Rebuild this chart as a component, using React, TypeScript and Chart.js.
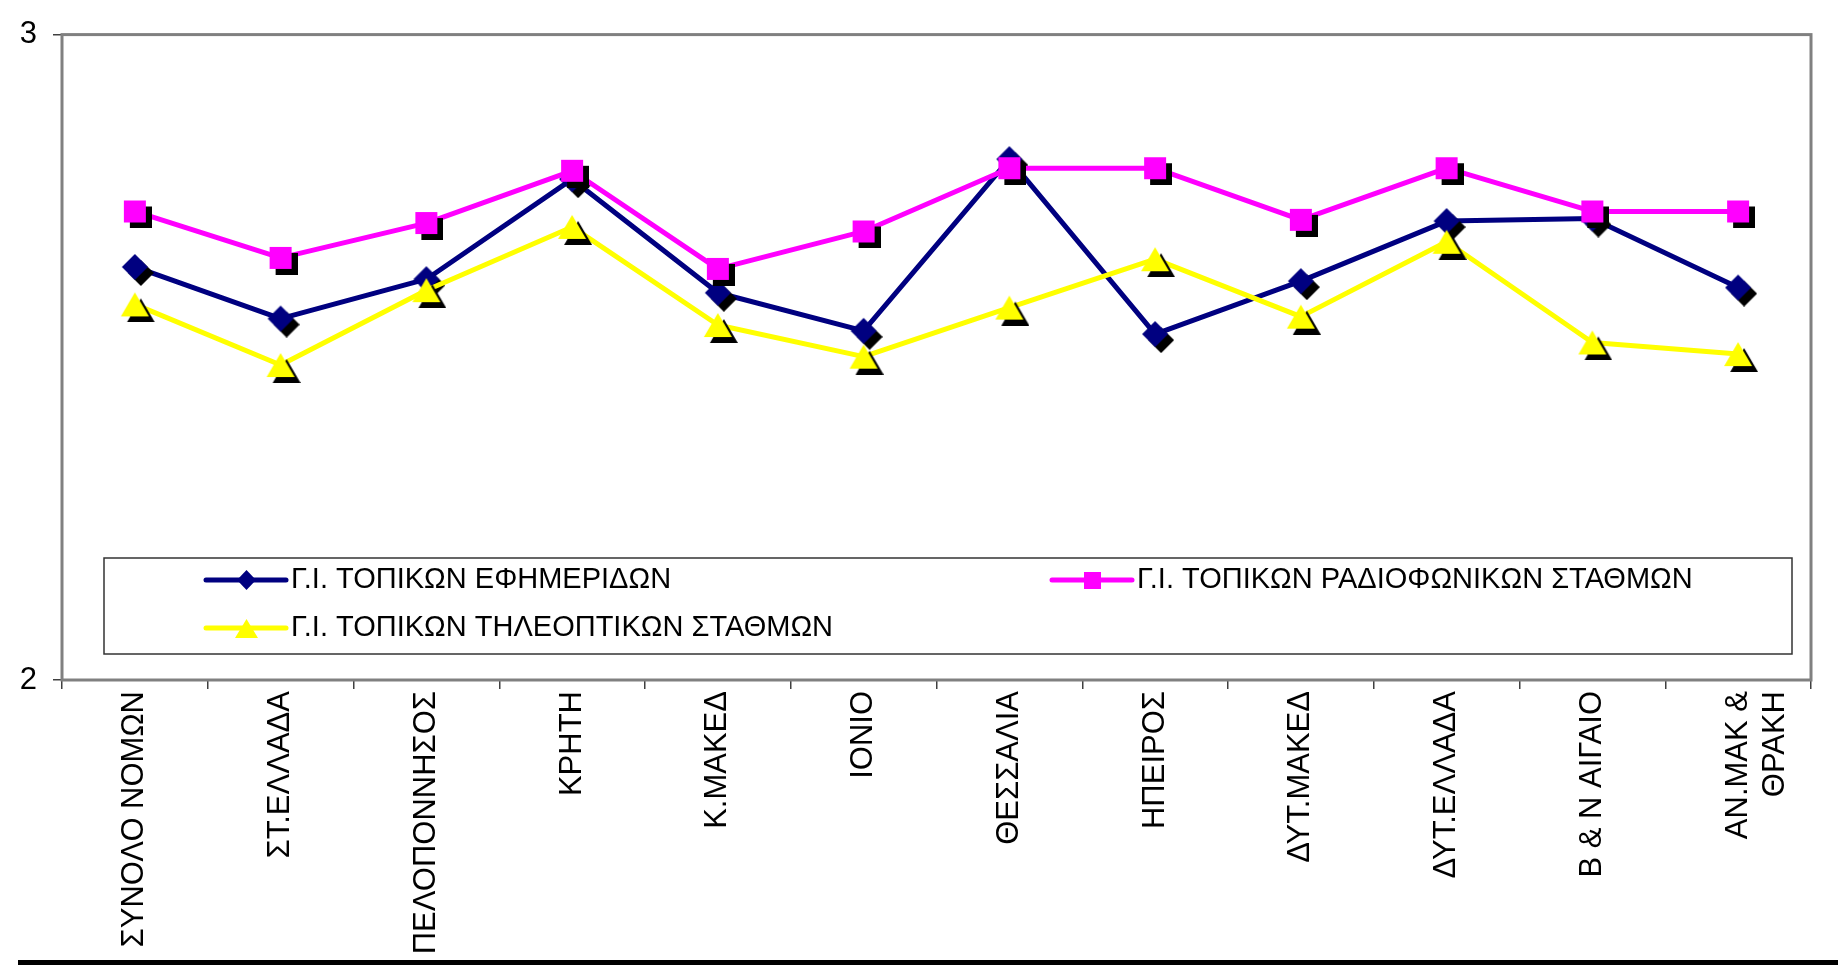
import React, { useEffect, useRef } from "react";
import { Chart, registerables } from "chart.js";

Chart.register(...registerables);

const FONT = "'Liberation Sans', Arial, sans-serif";

const categories: (string | string[])[] = [
  "ΣΥΝΟΛΟ ΝΟΜΩΝ",
  "ΣΤ.ΕΛΛΑΔΑ",
  "ΠΕΛΟΠΟΝΝΗΣΟΣ",
  "ΚΡΗΤΗ",
  "Κ.ΜΑΚΕΔ",
  "ΙΟΝΙΟ",
  "ΘΕΣΣΑΛΙΑ",
  "ΗΠΕΙΡΟΣ",
  "ΔΥΤ.ΜΑΚΕΔ",
  "ΔΥΤ.ΕΛΛΑΔΑ",
  "Β & Ν ΑΙΓΑΙΟ",
  ["ΑΝ.ΜΑΚ &", "ΘΡΑΚΗ"],
];

const newspaperValues = [2.640, 2.560, 2.621, 2.776, 2.600, 2.541, 2.807, 2.536, 2.618, 2.711, 2.715, 2.608];
const radioValues = [2.726, 2.654, 2.708, 2.789, 2.637, 2.695, 2.793, 2.793, 2.713, 2.793, 2.726, 2.726];
const tvValues = [2.582, 2.488, 2.604, 2.702, 2.550, 2.501, 2.577, 2.652, 2.563, 2.679, 2.523, 2.505];

const seriesNames = [
  "Γ.Ι. ΤΟΠΙΚΩΝ ΕΦΗΜΕΡΙΔΩΝ",
  "Γ.Ι. ΤΟΠΙΚΩΝ ΡΑΔΙΟΦΩΝΙΚΩΝ ΣΤΑΘΜΩΝ",
  "Γ.Ι. ΤΟΠΙΚΩΝ ΤΗΛΕΟΠΤΙΚΩΝ ΣΤΑΘΜΩΝ",
];
const seriesColors = ["#000080", "#FF00FF", "#FFFF00"];
const yTickValues = [2, 3];

type Shape = "diamond" | "square" | "triangle";

function pathShape(ctx: CanvasRenderingContext2D, shape: Shape, cx: number, cy: number, w: number, h: number) {
  ctx.beginPath();
  if (shape === "diamond") {
    ctx.moveTo(cx, cy - h / 2);
    ctx.lineTo(cx + w / 2, cy);
    ctx.lineTo(cx, cy + h / 2);
    ctx.lineTo(cx - w / 2, cy);
  } else if (shape === "square") {
    ctx.rect(cx - w / 2, cy - h / 2, w, h);
  } else {
    ctx.moveTo(cx, cy - h / 2);
    ctx.lineTo(cx + w / 2, cy + h / 2);
    ctx.lineTo(cx - w / 2, cy + h / 2);
  }
  ctx.closePath();
}

function makeMarker(shape: Shape, color: string, w: number, h: number, shadow: number) {
  const c = document.createElement("canvas");
  c.width = Math.ceil(w + 2 * shadow);
  c.height = Math.ceil(h + 2 * shadow);
  const ctx = c.getContext("2d") as CanvasRenderingContext2D;
  const cx = c.width / 2;
  const cy = c.height / 2;
  if (shadow > 0) {
    pathShape(ctx, shape, cx + shadow, cy + shadow, w, h);
    ctx.fillStyle = "#000000";
    ctx.fill();
  }
  pathShape(ctx, shape, cx, cy, w, h);
  ctx.fillStyle = color;
  ctx.fill();
  return c;
}

export default function App() {
  const canvasRef = useRef<HTMLCanvasElement | null>(null);

  useEffect(() => {
    if (!canvasRef.current) return;
    Chart.defaults.font.family = FONT;
    Chart.defaults.color = "#000000";

    const shapes: Shape[] = ["diamond", "square", "triangle"];
    const plotSizes = [
      [26, 26],
      [22, 22],
      [28, 24],
    ];
    const legendSizes = [
      [19, 20],
      [17, 17],
      [23, 19],
    ];
    const plotMarkers = shapes.map((s, i) => makeMarker(s, seriesColors[i], plotSizes[i][0], plotSizes[i][1], 6));
    const legendMarkers = shapes.map((s, i) => makeMarker(s, seriesColors[i], legendSizes[i][0], legendSizes[i][1], 0));

    const framePlugin = {
      id: "frame",
      beforeDatasetsDraw(chart: any) {
        const { ctx, chartArea: a } = chart;
        ctx.save();
        ctx.strokeStyle = "#808080";
        ctx.lineWidth = 3;
        ctx.strokeRect(a.left, a.top, a.right - a.left, a.bottom - a.top);
        ctx.restore();
      },
      afterDraw(chart: any) {
        const { ctx } = chart;
        ctx.save();
        ctx.fillStyle = "#000000";
        ctx.fillRect(18, chart.height - 5, chart.width - 18, 5);
        ctx.restore();
      },
    };

    const legendPlugin = {
      id: "boxLegend",
      afterDatasetsDraw(chart: any) {
        const { ctx, chartArea: a } = chart;
        const boxL = a.left + 42;
        const boxR = a.right - 19;
        const boxT = a.bottom - 122;
        const boxB = a.bottom - 26;
        ctx.save();
        ctx.fillStyle = "#ffffff";
        ctx.fillRect(boxL, boxT, boxR - boxL, boxB - boxT);
        ctx.strokeStyle = "#333333";
        ctx.lineWidth = 1.5;
        ctx.strokeRect(boxL, boxT, boxR - boxL, boxB - boxT);
        const slots = [
          [0, 0],
          [1, 0],
          [0, 1],
        ];
        const colX = [boxL + 102, boxL + 948];
        const rowY = [boxT + 22, boxT + 70];
        chart.data.datasets.forEach((ds: any, i: number) => {
          const [c, r] = slots[i];
          const x0 = colX[c];
          const y = rowY[r];
          ctx.strokeStyle = ds.borderColor;
          ctx.lineWidth = 5;
          ctx.lineCap = "round";
          ctx.beginPath();
          ctx.moveTo(x0, y);
          ctx.lineTo(x0 + 80, y);
          ctx.stroke();
          const m = legendMarkers[i];
          ctx.drawImage(m, Math.round(x0 + 40 - m.width / 2), Math.round(y - m.height / 2));
          ctx.fillStyle = "#000000";
          ctx.font = `29px ${FONT}`;
          ctx.textBaseline = "middle";
          ctx.textAlign = "left";
          ctx.fillText(ds.label, x0 + 85, y);
        });
        ctx.restore();
      },
    };

    const valueSets = [newspaperValues, radioValues, tvValues];
    const orders = [3, 2, 1];

    const chart = new Chart(canvasRef.current, {
      type: "line",
      data: {
        labels: categories,
        datasets: valueSets.map((vals, i) => ({
          label: seriesNames[i],
          data: vals,
          borderColor: seriesColors[i],
          backgroundColor: seriesColors[i],
          borderWidth: 5,
          borderJoinStyle: "round",
          borderCapStyle: "round",
          tension: 0,
          fill: false,
          pointStyle: plotMarkers[i],
          pointRadius: 12,
          order: orders[i],
        })),
      },
      options: {
        responsive: false,
        animation: false,
        events: [],
        layout: { padding: { left: 0, top: 33, right: 27, bottom: 0 } },
        plugins: {
          legend: { display: false },
          tooltip: { enabled: false },
        },
        scales: {
          x: {
            type: "category",
            offset: true,
            grid: {
              display: true,
              drawOnChartArea: false,
              drawTicks: true,
              tickLength: 9,
              offset: true,
              color: "#404040",
              lineWidth: 1.5,
            },
            border: { display: false },
            ticks: {
              autoSkip: false,
              minRotation: 90,
              maxRotation: 90,
              padding: 2,
              color: "#000000",
              font: { size: 31, family: FONT },
            },
            afterFit: (s: any) => {
              s.height = 285;
            },
          },
          y: {
            min: 2,
            max: 3,
            afterBuildTicks: (s: any) => {
              s.ticks = yTickValues.map((v) => ({ value: v }));
            },
            grid: {
              display: true,
              drawOnChartArea: false,
              drawTicks: true,
              tickLength: 9,
              color: "#404040",
              lineWidth: 1.5,
            },
            border: { display: false },
            ticks: {
              padding: 16,
              color: "#000000",
              font: { size: 31, family: FONT },
            },
            afterFit: (s: any) => {
              s.width = 62;
            },
          },
        },
      },
      plugins: [framePlugin, legendPlugin],
    } as any);

    return () => {
      chart.destroy();
    };
  }, []);

  return (
    <div style={{ position: "fixed", left: 0, top: 0, width: 1838, height: 965, background: "#ffffff" }}>
      <canvas ref={canvasRef} width={1838} height={965} style={{ display: "block", width: 1838, height: 965 }} />
    </div>
  );
}
